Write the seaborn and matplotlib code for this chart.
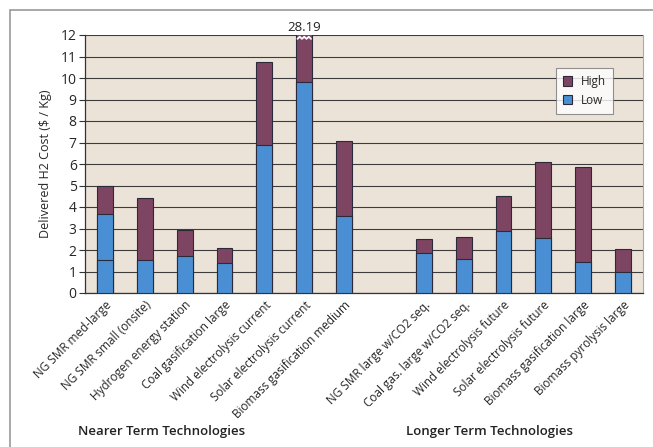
import matplotlib
matplotlib.use("Agg")
import matplotlib.pyplot as plt
import seaborn as sns
import pandas as pd
import numpy as np
from matplotlib.patches import Rectangle

near_tech = ["NG SMR med-large", "NG SMR small (onsite)", "Hydrogen energy station",
             "Coal gasification large", "Wind electrolysis current",
             "Solar electrolysis current", "Biomass gasification medium"]
long_tech = ["NG SMR large w/CO2 seq.", "Coal gas. large w/CO2 seq.",
             "Wind electrolysis future", "Solar electrolysis future",
             "Biomass gasification large", "Biomass pyrolysis large"]
near_low = [3.67, 1.55, 1.72, 1.40, 6.88, 9.83, 3.60]
near_high = [5.00, 4.40, 2.93, 2.11, 10.76, 28.19, 7.08]
long_low = [1.85, 1.60, 2.90, 2.56, 1.44, 0.99]
long_high = [2.50, 2.59, 4.51, 6.09, 5.85, 2.03]
# inner split line within the first bar
inner_base_tech = ["NG SMR med-large"]
inner_base_val = [1.55]

gap = " "
order = near_tech + [gap] + long_tech
df = pd.DataFrame({
    "tech": near_tech + long_tech,
    "low": near_low + long_low,
    "high": near_high + long_high,
})
df_base = pd.DataFrame({"tech": inner_base_tech, "val": inner_base_val})

purple = "#7e4563"
blue = "#4a8fd3"
bg = "#ece3d8"
edge = "#2a2a3a"

sns.set_theme(style="white")
plt.rcParams["font.family"] = ["Open Sans", "DejaVu Sans"]

fig = plt.figure(figsize=(6.53, 4.47), dpi=100)
ax = fig.add_axes([85/653, 1-293/447, 558/653, 258/447])
ax.set_facecolor(bg)

sns.barplot(data=df, x="tech", y="high", order=order, color=purple, width=0.4,
            edgecolor=edge, linewidth=0.8, saturation=1, ax=ax, zorder=3, label="High")
sns.barplot(data=df, x="tech", y="low", order=order, color=blue, width=0.4,
            edgecolor=edge, linewidth=0.8, saturation=1, ax=ax, zorder=4, label="Low")
sns.barplot(data=df_base, x="tech", y="val", order=order, color=blue, width=0.4,
            edgecolor=edge, linewidth=0.8, saturation=1, ax=ax, zorder=5)

ax.set_ylim(0, 12)
ax.set_xlim(-0.5, len(order) - 0.5)
ax.set_yticks(range(0, 13))
ax.yaxis.grid(True, color="#3c3c3c", linewidth=0.8, zorder=1)
ax.set_axisbelow(True)
ax.tick_params(axis="y", direction="out", length=4, width=0.8, color="#333333",
               labelsize=10, pad=2, left=True)
ax.set_xticks(np.arange(len(order)))
ax.set_xticklabels(order, rotation=45, ha="right", rotation_mode="anchor", fontsize=8.5)
ax.tick_params(axis="x", length=0, pad=4)
ax.set_xticks(np.arange(-0.5, len(order)), minor=True)
ax.tick_params(axis="x", which="minor", direction="out", length=4, width=0.8, color="#333333")
ax.set_xlabel("")
ax.set_ylabel("Delivered H2 Cost ($ / Kg)", fontsize=9, labelpad=6)

for s in ["left", "bottom"]:
    ax.spines[s].set_color("#333333")
    ax.spines[s].set_linewidth(0.9)
ax.spines["right"].set_color("#aaaaaa")
ax.spines["right"].set_linewidth(0.8)
ax.spines["top"].set_visible(False)

# break marker on clipped bar
idx = order.index("Solar electrolysis current")
zx = idx + np.linspace(-0.17, 0.17, 7)
zy = 11.82 + np.array([0, 0.1, 0, 0.1, 0, 0.1, 0])
ax.plot(zx, zy, color="white", lw=1.3, zorder=6, clip_on=False)
ax.text(idx, 12.05, "28.19", ha="center", va="bottom", fontsize=9.5, color="#222222")

leg = ax.legend(loc="upper right", bbox_to_anchor=(0.946, 0.872), fontsize=8.5,
                frameon=True, fancybox=False, edgecolor="#777777", borderaxespad=0,
                handlelength=0.8, handleheight=0.8, borderpad=0.6, labelspacing=0.5,
                handletextpad=0.7)
leg.get_frame().set_facecolor("white")
leg.get_frame().set_linewidth(0.8)
leg.set_zorder(10)

fig.text(162/653, 1-431/447, "Nearer Term Technologies", ha="center", va="center",
         fontsize=9.5, fontweight="semibold", color="#222222")
fig.text(490/653, 1-431/447, "Longer Term Technologies", ha="center", va="center",
         fontsize=9.5, fontweight="semibold", color="#222222")

frame = Rectangle((10/653, -0.2), 1.2, 0.2 + 1 - 10/447, transform=fig.transFigure,
                  fill=False, edgecolor="#9a9a9a", linewidth=1.2, clip_on=False)
fig.patches.append(frame)

fig.savefig("out.png", dpi=100)
